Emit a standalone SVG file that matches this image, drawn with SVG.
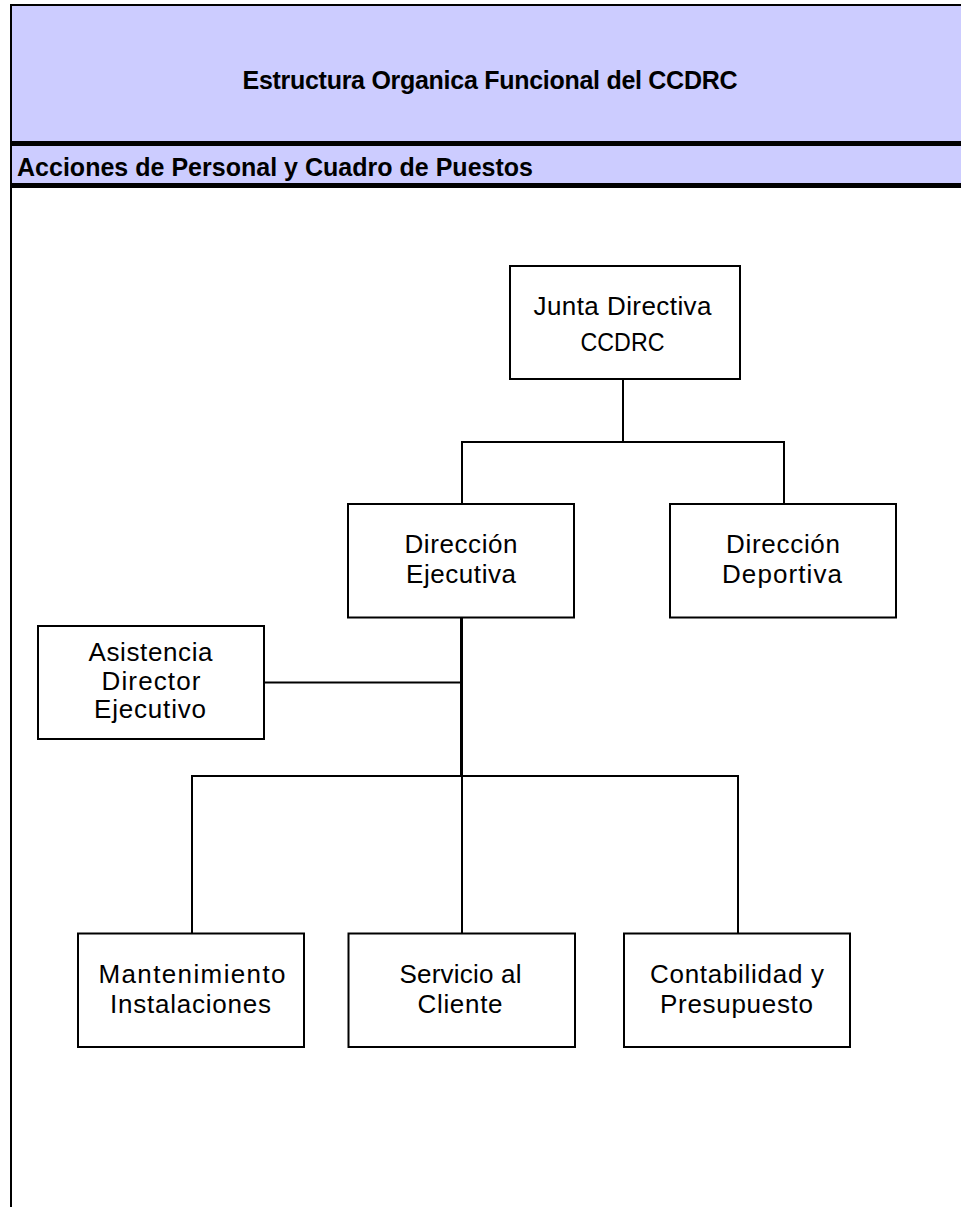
<svg xmlns="http://www.w3.org/2000/svg" width="961" height="1207" viewBox="0 0 961 1207">
<style>
.bg{fill:#ffffff}
.band{fill:#ccccff}
.frame{stroke:#000;stroke-width:2;fill:none}
.rule{stroke:#000;stroke-width:5;fill:none}
.box{fill:#ffffff;stroke:#000;stroke-width:2}
.conn{stroke:#000;stroke-width:2;fill:none}
.head{font-family:"Liberation Sans",Arial,sans-serif;font-weight:bold;font-size:25px;fill:#000}
.lbl{font-family:"Liberation Sans",Arial,sans-serif;font-size:26px;fill:#000;text-anchor:middle}
</style>
<rect class="bg" x="0" y="0" width="961" height="1207"/>
<g id="header">
<rect class="band" x="11" y="5" width="950" height="138"/>
<rect class="band" x="11" y="145" width="950" height="40"/>
<line class="frame" x1="10" y1="5" x2="961" y2="5"/>
<line class="frame" x1="11" y1="4" x2="11" y2="1207"/>
<line class="rule" x1="11" y1="143.5" x2="961" y2="143.5"/>
<line class="rule" x1="11" y1="185.5" x2="961" y2="185.5"/>
<text class="head" x="490" y="89" text-anchor="middle" textLength="495">Estructura Organica Funcional del CCDRC</text>
<text class="head" x="17" y="176" textLength="516">Acciones de Personal y Cuadro de Puestos</text>
</g>
<g id="connectors">
<line class="conn" x1="623" y1="379" x2="623" y2="442"/>
<line class="conn" x1="461" y1="442" x2="785" y2="442"/>
<line class="conn" x1="462" y1="441" x2="462" y2="503"/>
<line class="conn" x1="784" y1="441" x2="784" y2="504"/>
<line class="conn" x1="461.5" y1="618" x2="461.5" y2="776" style="stroke-width:3"/>
<line class="conn" x1="264" y1="682.5" x2="461" y2="682.5"/>
<line class="conn" x1="191" y1="776" x2="739" y2="776"/>
<line class="conn" x1="192" y1="775" x2="192" y2="933"/>
<line class="conn" x1="462" y1="775" x2="462" y2="933"/>
<line class="conn" x1="738" y1="775" x2="738" y2="933"/>
</g>
<g id="junta">
<rect class="box" x="510" y="266" width="230" height="113"/>
<text class="lbl" x="622.5" y="315" textLength="178">Junta Directiva</text>
<text class="lbl" x="622.5" y="350.5" textLength="84" lengthAdjust="spacingAndGlyphs">CCDRC</text>
</g>
<g id="direccion-ejecutiva">
<rect class="box" x="348" y="504" width="226" height="113.5"/>
<text class="lbl" x="461" y="553" textLength="113">Dirección</text>
<text class="lbl" x="461" y="583" textLength="110">Ejecutiva</text>
</g>
<g id="direccion-deportiva">
<rect class="box" x="670" y="504" width="226" height="113.5"/>
<text class="lbl" x="783" y="553" textLength="114">Dirección</text>
<text class="lbl" x="782" y="583" textLength="120">Deportiva</text>
</g>
<g id="asistencia">
<rect class="box" x="38" y="626" width="226" height="113"/>
<text class="lbl" x="150.5" y="661" textLength="124">Asistencia</text>
<text class="lbl" x="151" y="690" textLength="99">Director</text>
<text class="lbl" x="150" y="718" textLength="112">Ejecutivo</text>
</g>
<g id="mantenimiento">
<rect class="box" x="78" y="933.5" width="226" height="113.5"/>
<text class="lbl" x="192" y="983" textLength="187">Mantenimiento</text>
<text class="lbl" x="190.5" y="1012.5" textLength="161">Instalaciones</text>
</g>
<g id="servicio">
<rect class="box" x="348.5" y="933.5" width="226.5" height="113.5"/>
<text class="lbl" x="460.5" y="983" textLength="122">Servicio al</text>
<text class="lbl" x="460" y="1012.5" textLength="85">Cliente</text>
</g>
<g id="contabilidad">
<rect class="box" x="624" y="933.5" width="226" height="113.5"/>
<text class="lbl" x="737" y="983" textLength="174">Contabilidad y</text>
<text class="lbl" x="736.5" y="1012.5" textLength="153">Presupuesto</text>
</g>
</svg>
